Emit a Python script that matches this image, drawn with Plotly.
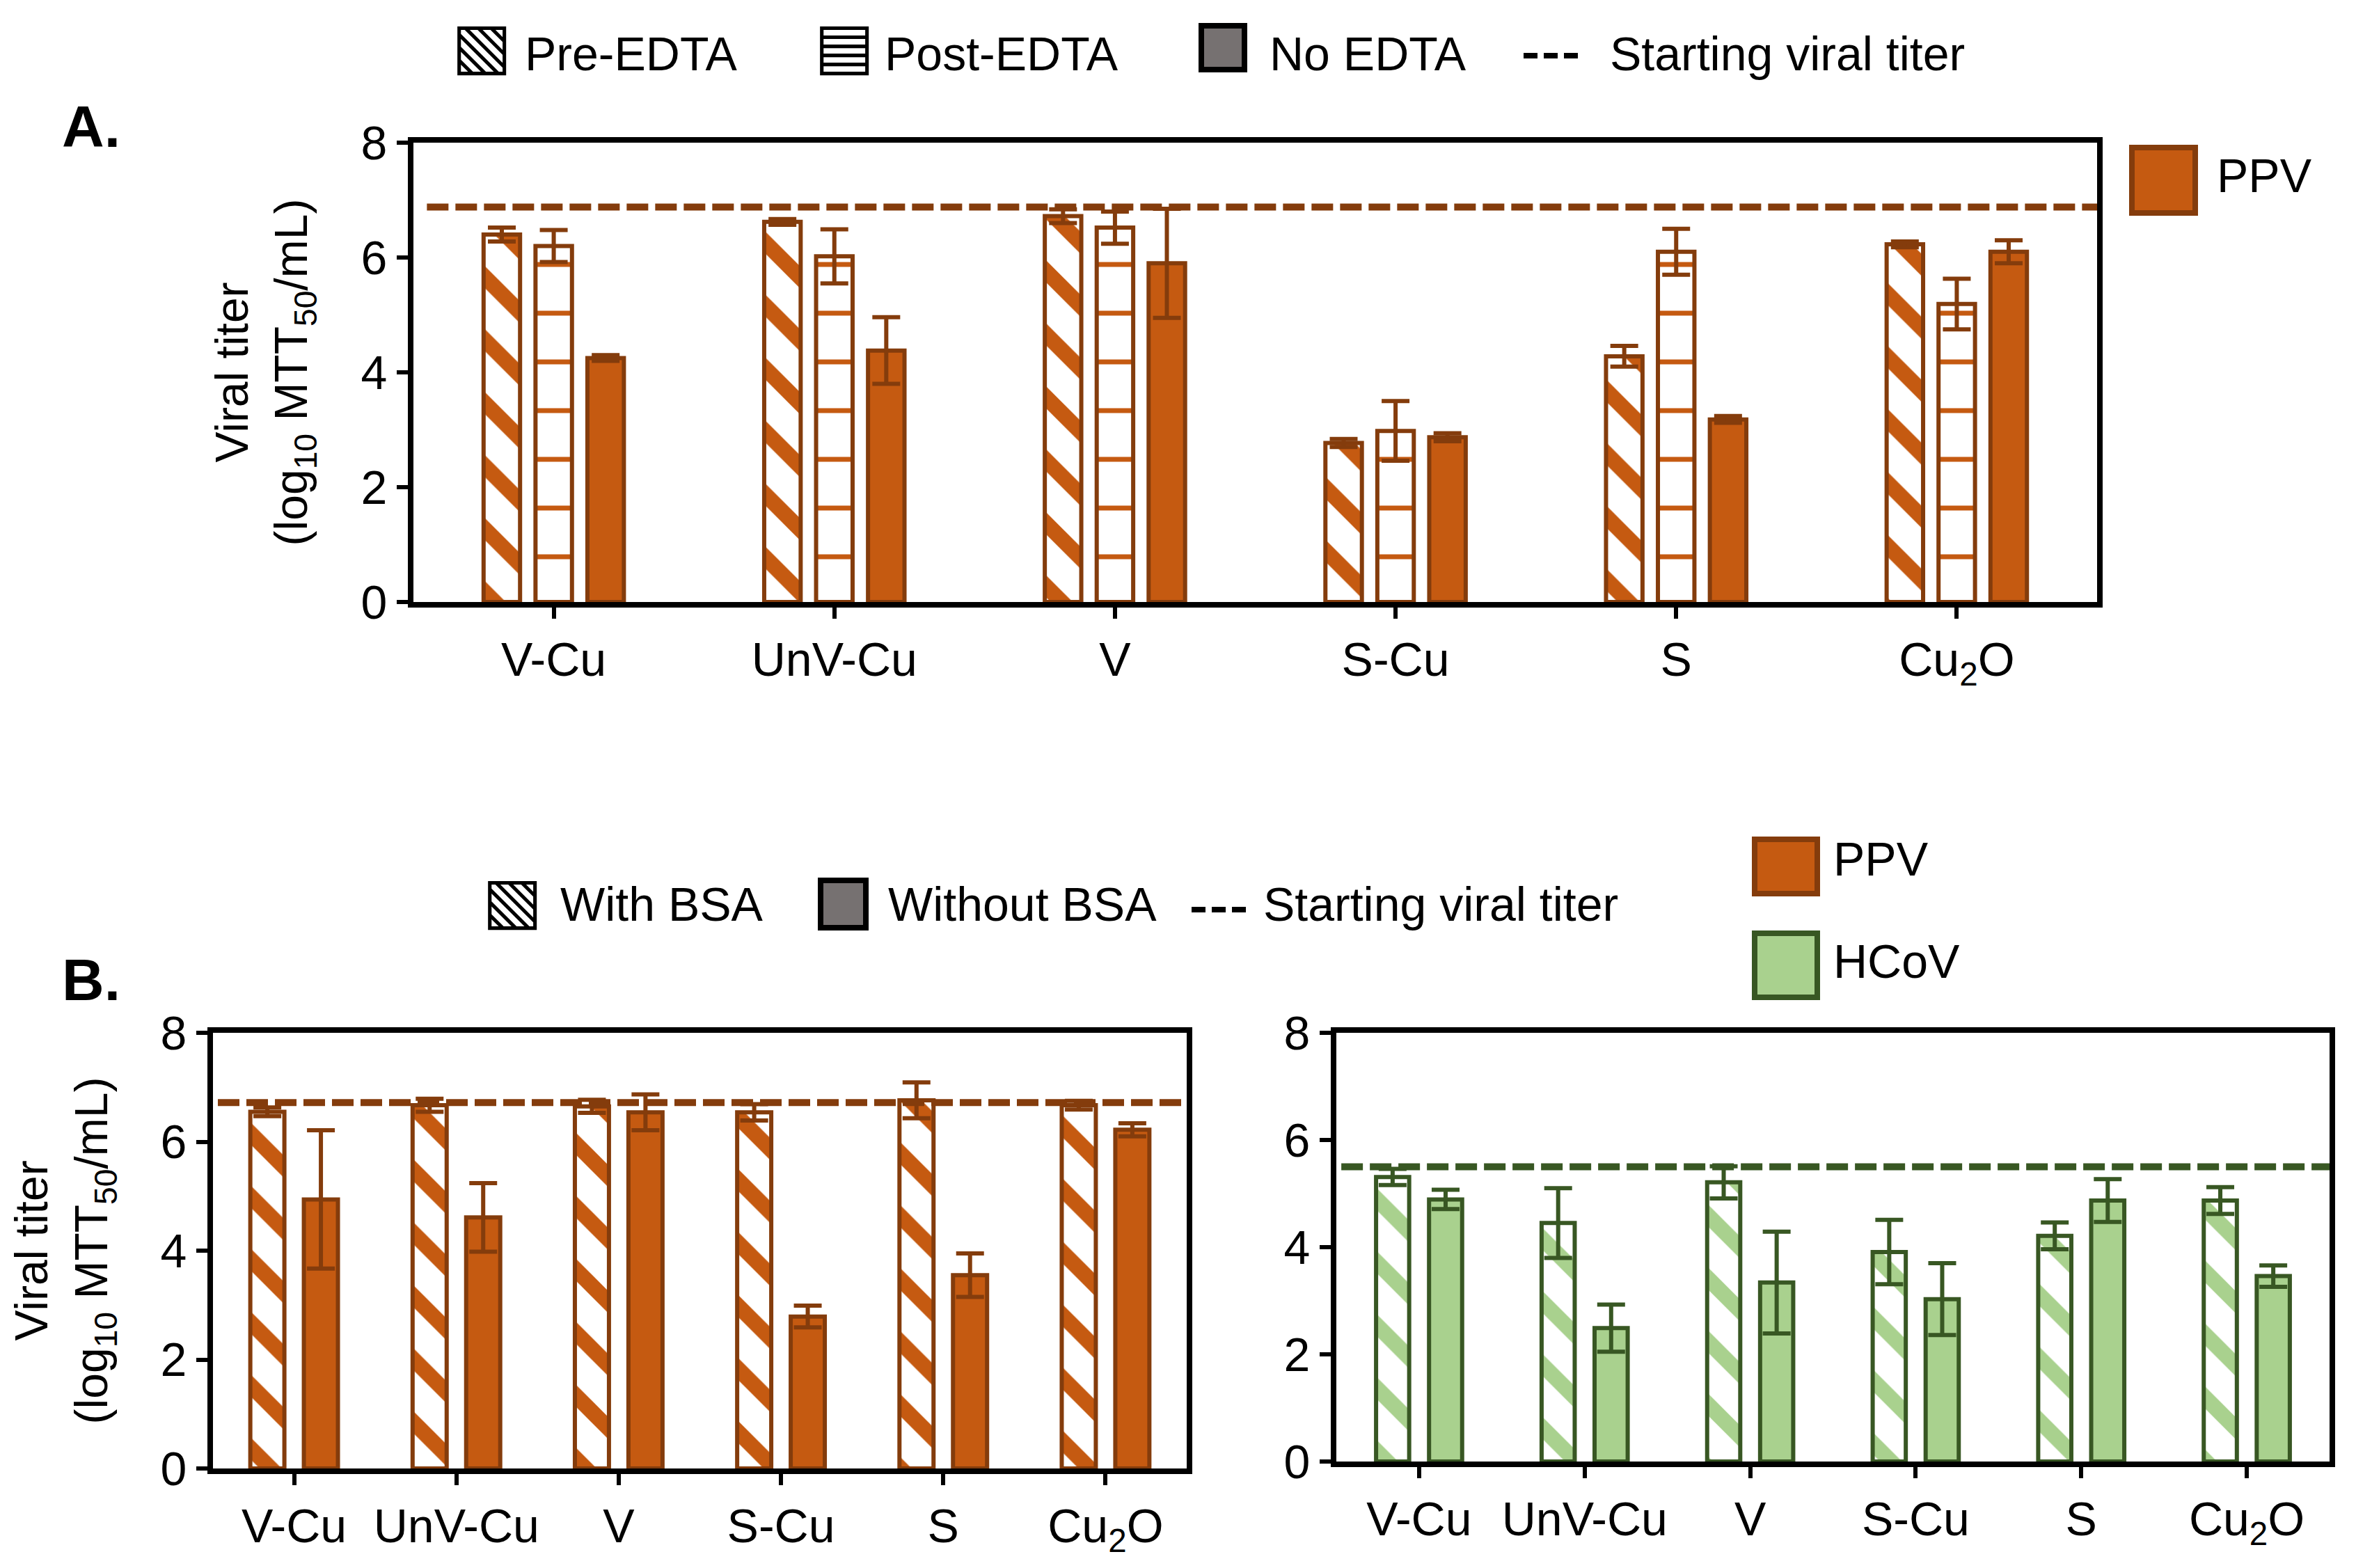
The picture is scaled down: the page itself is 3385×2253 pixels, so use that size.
import plotly.graph_objects as go

# categories
cats = ["V-Cu", "UnV-Cu", "V", "S-Cu", "S", "Cu<sub>2</sub>O"]

# panel A, PPV (log10 MTT50/mL)
pre_edta = [6.40, 6.62, 6.72, 2.77, 4.28, 6.23]
pre_edta_err = [0.12, 0.05, 0.12, 0.07, 0.18, 0.05]
post_edta = [6.20, 6.02, 6.52, 2.98, 6.10, 5.19]
post_edta_err = [0.28, 0.47, 0.28, 0.52, 0.40, 0.44]
no_edta = [4.25, 4.38, 5.90, 2.87, 3.18, 6.10]
no_edta_err = [0.05, 0.58, 0.95, 0.07, 0.06, 0.20]
titer_a = 6.88

# panel B left, PPV
ppv_with_bsa = [6.55, 6.67, 6.65, 6.54, 6.76, 6.67]
ppv_with_bsa_err = [0.08, 0.12, 0.12, 0.15, 0.33, 0.08]
ppv_without_bsa = [4.94, 4.61, 6.54, 2.79, 3.55, 6.22]
ppv_without_bsa_err = [1.27, 0.63, 0.33, 0.20, 0.40, 0.12]
titer_b_ppv = 6.72

# panel B right, HCoV
hcov_with_bsa = [5.31, 4.45, 5.21, 3.91, 4.21, 4.87]
hcov_with_bsa_err = [0.15, 0.65, 0.30, 0.60, 0.25, 0.25]
hcov_without_bsa = [4.89, 2.49, 3.34, 3.03, 4.87, 3.46]
hcov_without_bsa_err = [0.18, 0.44, 0.95, 0.67, 0.40, 0.20]
titer_b_hcov = 5.50

ORANGE = "#C55A11"
BROWN = "#843C0C"
LGREEN = "#A9D18E"
DGREEN = "#385723"
GREY = "#767171"

W, H = 3385, 2253
PAD = 8  # default page margin around the plot div
FS = 68


def X(px):
    return (px - PAD) / W


def Y(py):
    return 1 - (py - PAD) / H


def err(arr, color):
    return dict(type="data", array=arr, color=color, thickness=6, width=20)


def hatch(fg, edge):
    return dict(color="white", line=dict(color=edge, width=6),
                pattern=dict(shape="\\", fgcolor=fg, bgcolor="white", size=64, solidity=0.35))


def dashes(fg, edge):
    return dict(color="white", line=dict(color=edge, width=6),
                pattern=dict(shape="-", fgcolor=fg, bgcolor="white", size=70, solidity=0.1))


def solid(fill, edge):
    return dict(color=fill, line=dict(color=edge, width=6))


fig = go.Figure()

# panel A
fig.add_trace(go.Bar(x=cats, y=pre_edta, error_y=err(pre_edta_err, BROWN), width=0.13, offset=-0.25,
                     xaxis="x", yaxis="y", name="Pre-EDTA", marker=hatch(ORANGE, BROWN)))
fig.add_trace(go.Bar(x=cats, y=post_edta, error_y=err(post_edta_err, BROWN), width=0.13, offset=-0.065,
                     xaxis="x", yaxis="y", name="Post-EDTA", marker=dashes(ORANGE, BROWN)))
fig.add_trace(go.Bar(x=cats, y=no_edta, error_y=err(no_edta_err, BROWN), width=0.13, offset=0.12,
                     xaxis="x", yaxis="y", name="No EDTA", marker=solid(ORANGE, BROWN)))

# panel B left (PPV)
fig.add_trace(go.Bar(x=cats, y=ppv_with_bsa, error_y=err(ppv_with_bsa_err, BROWN), width=0.21, offset=-0.27,
                     xaxis="x2", yaxis="y2", name="With BSA", marker=hatch(ORANGE, BROWN)))
fig.add_trace(go.Bar(x=cats, y=ppv_without_bsa, error_y=err(ppv_without_bsa_err, BROWN), width=0.21,
                     offset=0.06, xaxis="x2", yaxis="y2", name="Without BSA", marker=solid(ORANGE, BROWN)))

# panel B right (HCoV)
fig.add_trace(go.Bar(x=cats, y=hcov_with_bsa, error_y=err(hcov_with_bsa_err, DGREEN), width=0.2, offset=-0.26,
                     xaxis="x3", yaxis="y3", name="With BSA", marker=hatch(LGREEN, DGREEN)))
fig.add_trace(go.Bar(x=cats, y=hcov_without_bsa, error_y=err(hcov_without_bsa_err, DGREEN), width=0.2,
                     offset=0.06, xaxis="x3", yaxis="y3", name="Without BSA", marker=solid(LGREEN, DGREEN)))

# starting viral titers
for xref, yref, val, col, x0 in [("x", "y", titer_a, BROWN, 0.008),
                                 ("x2", "y2", titer_b_ppv, BROWN, 0.005),
                                 ("x3", "y3", titer_b_hcov, DGREEN, 0.005)]:
    fig.add_shape(type="line", xref=xref + " domain", yref=yref, x0=x0, x1=1, y0=val, y1=val,
                  line=dict(color=col, width=10, dash="31px,10px"))

# legends drawn as text + swatches (positions in pixels)
annotations = []


def label(px, py, text, size=FS, color="black"):
    annotations.append(dict(text=text, x=X(px), y=Y(py), xref="paper", yref="paper",
                            xanchor="left", yanchor="middle", showarrow=False,
                            font=dict(size=size, color=color)))


def box(x0, y0, x1, y1, fill, edge):
    fig.add_shape(type="rect", xref="paper", yref="paper", x0=X(x0), x1=X(x1),
                  y0=Y(y0), y1=Y(y1), fillcolor=fill, line=dict(color=edge, width=8))


def dash_key(x0, x1, py):
    fig.add_shape(type="line", xref="paper", yref="paper", x0=X(x0), x1=X(x1),
                  y0=Y(py), y1=Y(py), line=dict(color="black", width=8, dash="20px,9px"))


# panel A legend
label(647, 65, "▧", size=92)
label(752, 77, "Pre-EDTA")
label(1168, 65, "▤", size=92)
label(1269, 77, "Post-EDTA")
box(1726, 37, 1788, 100, GREY, "black")
label(1822, 77, "No EDTA")
dash_key(2189, 2273, 80)
label(2311, 77, "Starting viral titer")
box(3063, 212, 3154, 306, ORANGE, BROWN)
label(3183, 252, "PPV")

# panel B legend
label(691, 1293, "▧", size=92)
label(803, 1299, "With BSA")
box(1179, 1265, 1244, 1333, GREY, "black")
label(1274, 1299, "Without BSA")
dash_key(1712, 1797, 1307)
label(1813, 1299, "Starting viral titer")
box(2521, 1206, 2611, 1284, ORANGE, BROWN)
label(2632, 1234, "PPV")
box(2521, 1341, 2611, 1433, LGREEN, DGREEN)
label(2632, 1381, "HCoV")

annotations.append(dict(text="<b>A.</b>", x=X(87), y=Y(182), xref="paper", yref="paper",
                        xanchor="left", yanchor="middle", showarrow=False, font=dict(size=84)))
annotations.append(dict(text="<b>B.</b>", x=X(87), y=Y(1408), xref="paper", yref="paper",
                        xanchor="left", yanchor="middle", showarrow=False, font=dict(size=84)))

xstyle = dict(type="category", showline=True, linecolor="black", linewidth=8, mirror=True,
              ticks="outside", ticklen=16, tickwidth=6, tickcolor="black", showgrid=False,
              zeroline=False, tickfont=dict(size=FS), ticklabelstandoff=0)
ystyle = dict(range=[0, 8], dtick=2, showline=True, linecolor="black", linewidth=8, mirror=True,
              ticks="outside", ticklen=16, tickwidth=6, tickcolor="black", showgrid=False,
              zeroline=False, tickfont=dict(size=FS))
ytitle = dict(text="Viral titer<br>(log<sub>10</sub> MTT<sub>50</sub>/mL)", font=dict(size=66),
              standoff=58)

fig.update_layout(
    width=W, height=H,
    template="none",
    showlegend=False,
    margin=dict(l=0, r=0, t=0, b=0),
    paper_bgcolor="white", plot_bgcolor="white",
    font=dict(family="Liberation Sans, Arial, DejaVu Sans, sans-serif", color="black", size=FS),
    barmode="overlay",
    xaxis=dict(xstyle, domain=[X(594), X(3013)], anchor="y"),
    yaxis=dict(ystyle, domain=[Y(865), Y(205)], anchor="x", title=ytitle),
    xaxis2=dict(xstyle, domain=[X(306), X(1705)], anchor="y2"),
    yaxis2=dict(ystyle, domain=[Y(2110), Y(1484)], anchor="x2", title=ytitle),
    xaxis3=dict(xstyle, domain=[X(1920), X(3347)], anchor="y3"),
    yaxis3=dict(ystyle, domain=[Y(2100), Y(1484)], anchor="x3"),
    annotations=annotations,
)

fig.write_html("out.html")
